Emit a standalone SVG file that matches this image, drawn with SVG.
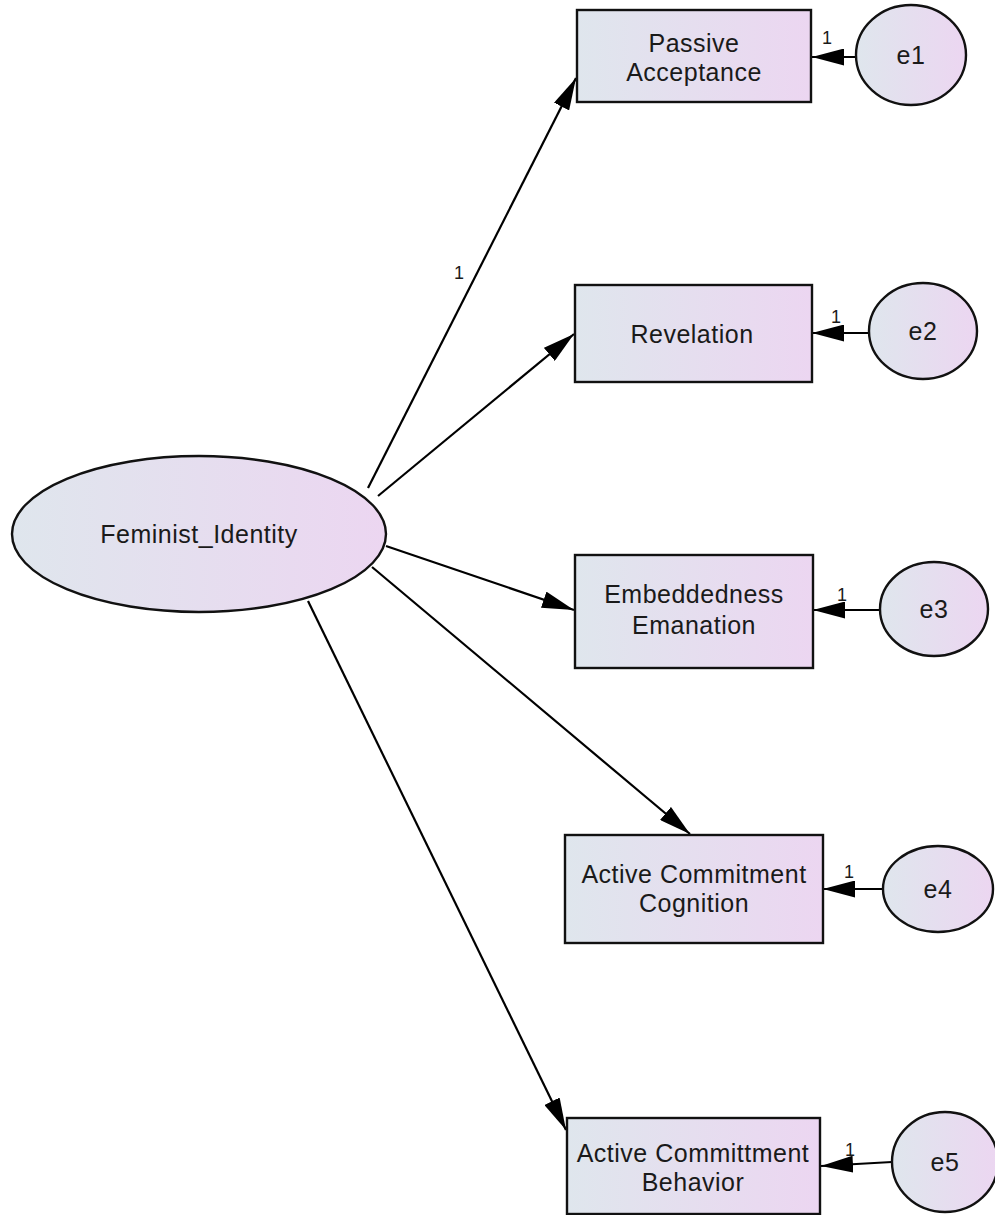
<svg xmlns="http://www.w3.org/2000/svg" width="995" height="1215" viewBox="0 0 995 1215">
<defs>
<linearGradient id="g" x1="0" y1="0" x2="1" y2="0">
<stop offset="0" stop-color="#dfe6ed"/>
<stop offset="1" stop-color="#ecd6f1"/>
</linearGradient>
<marker id="ah" viewBox="0 0 32 17" refX="32" refY="8.5" markerWidth="32" markerHeight="17" markerUnits="userSpaceOnUse" orient="auto">
<path d="M0,0 L32,8.5 L0,17 Z" fill="#000"/>
</marker>
<style>
.n{fill:url(#g);stroke:#111;stroke-width:2.4}
.t{font-family:"Liberation Sans",Arial,sans-serif;font-size:25px;letter-spacing:0.5px;fill:#1a1a1a;text-anchor:middle}
.l{font-family:"Liberation Sans",Arial,sans-serif;font-size:18px;fill:#1a1a1a;text-anchor:middle}
.c{stroke:#000;stroke-width:2.2;fill:none;marker-end:url(#ah)}
</style>
</defs>
<rect width="995" height="1215" fill="#fff"/>
<g id="connectors">
<line class="c" x1="368" y1="488" x2="576" y2="78"/>
<line class="c" x1="378" y1="496" x2="574" y2="334"/>
<line class="c" x1="386" y1="546" x2="574" y2="610"/>
<line class="c" x1="372" y1="567" x2="690" y2="834"/>
<line class="c" x1="308" y1="601" x2="566" y2="1130"/>
<line class="c" x1="856" y1="57" x2="812" y2="57"/>
<line class="c" x1="869" y1="333" x2="812" y2="333"/>
<line class="c" x1="880" y1="610" x2="813" y2="610"/>
<line class="c" x1="883" y1="889" x2="823" y2="889"/>
<line class="c" x1="892" y1="1162" x2="821" y2="1166"/>
<text class="l" x="459" y="279">1</text>
<text class="l" x="827" y="44">1</text>
<text class="l" x="836" y="323">1</text>
<text class="l" x="842" y="601">1</text>
<text class="l" x="849" y="878">1</text>
<text class="l" x="850" y="1156">1</text>
</g>
<g id="feminist_identity">
<ellipse class="n" cx="199" cy="534" rx="187" ry="78"/>
<text class="t" x="199" y="543">Feminist_Identity</text>
</g>
<g id="passive_acceptance">
<rect class="n" x="577" y="10" width="234" height="92"/>
<text class="t" x="694" y="52">Passive</text>
<text class="t" x="694" y="81">Acceptance</text>
</g>
<g id="revelation">
<rect class="n" x="575" y="285" width="237" height="97"/>
<text class="t" x="692" y="343">Revelation</text>
</g>
<g id="embeddedness">
<rect class="n" x="575" y="555" width="238" height="113"/>
<text class="t" x="694" y="603">Embeddedness</text>
<text class="t" x="694" y="634">Emanation</text>
</g>
<g id="active_cognition">
<rect class="n" x="565" y="835" width="258" height="108"/>
<text class="t" x="694" y="883">Active Commitment</text>
<text class="t" x="694" y="912">Cognition</text>
</g>
<g id="active_behavior">
<rect class="n" x="567" y="1118" width="253" height="96"/>
<text class="t" x="693" y="1162">Active Committment</text>
<text class="t" x="693" y="1191">Behavior</text>
</g>
<g id="e1"><ellipse class="n" cx="911" cy="55" rx="55" ry="50"/><text class="t" x="911" y="64">e1</text></g>
<g id="e2"><ellipse class="n" cx="923" cy="331" rx="54" ry="48"/><text class="t" x="923" y="340">e2</text></g>
<g id="e3"><ellipse class="n" cx="934" cy="609" rx="54" ry="47"/><text class="t" x="934" y="618">e3</text></g>
<g id="e4"><ellipse class="n" cx="938" cy="889" rx="55" ry="43"/><text class="t" x="938" y="898">e4</text></g>
<g id="e5"><ellipse class="n" cx="945" cy="1162" rx="53" ry="50"/><text class="t" x="945" y="1171">e5</text></g>
</svg>
